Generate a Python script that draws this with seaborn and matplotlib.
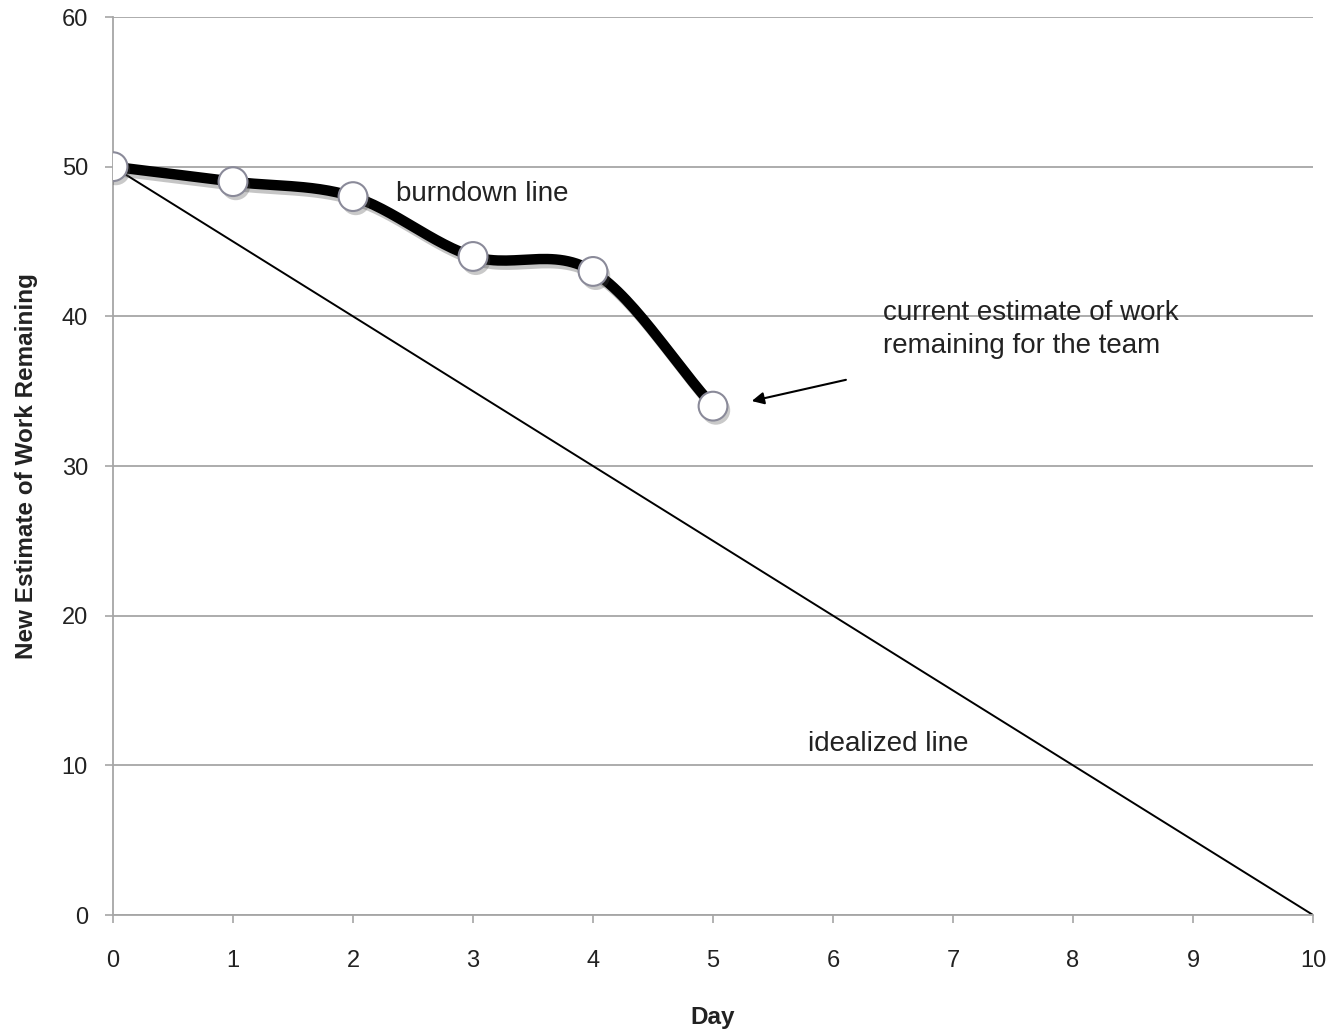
import numpy as np
import pandas as pd
import matplotlib
matplotlib.use('Agg')
import matplotlib.pyplot as plt
import matplotlib.patheffects as pe
import seaborn as sns

days = [0, 1, 2, 3, 4, 5]
work_remaining = [50, 49, 48, 44, 43, 34]
ideal_days = [0, 10]
ideal_work = [50, 0]
x_ticks = list(range(0, 11))
y_ticks = [0, 10, 20, 30, 40, 50, 60]


def smooth_curve(x, y, steps=30):
    # catmull-rom spline through the points, like a spreadsheet "smoothed line"
    x = np.asarray(x, dtype=float)
    y = np.asarray(y, dtype=float)
    px = np.concatenate([[2 * x[0] - x[1]], x, [2 * x[-1] - x[-2]]])
    py = np.concatenate([[2 * y[0] - y[1]], y, [2 * y[-1] - y[-2]]])
    xs, ys = [], []
    t = np.linspace(0, 1, steps)
    for i in range(1, len(px) - 2):
        for p, out in ((px, xs), (py, ys)):
            p0, p1, p2, p3 = p[i - 1], p[i], p[i + 1], p[i + 2]
            out.extend(0.5 * (2 * p1 + (-p0 + p2) * t + (2 * p0 - 5 * p1 + 4 * p2 - p3) * t ** 2
                              + (-p0 + 3 * p1 - 3 * p2 + p3) * t ** 3))
    return np.array(xs), np.array(ys)


sns.set_theme(style='white')
plt.rcParams['font.family'] = ['Liberation Sans', 'DejaVu Sans']

fig = plt.figure(figsize=(13.34, 10.31), dpi=100)
ax = fig.add_axes([0.0847, 0.1125, 0.8996, 0.871])

ax.yaxis.grid(True, color='#a6a6a6', linewidth=1.3)
ax.set_axisbelow(True)

sns.lineplot(x=ideal_days, y=ideal_work, ax=ax, color='black', linewidth=1.4)

sx, sy = smooth_curve(days, work_remaining)
sns.lineplot(x=sx, y=sy, ax=ax, color='black', linewidth=7.5, sort=False,
             path_effects=[pe.SimpleLineShadow(offset=(2, -3), alpha=0.25), pe.Normal()])

df = pd.DataFrame({'Day': days, 'Work': work_remaining})
sns.scatterplot(data=df, x='Day', y='Work', ax=ax, s=430, color='white',
                edgecolor='#8a8a99', linewidth=1.5, zorder=5,
                path_effects=[pe.SimplePatchShadow(offset=(2, -3), alpha=0.3), pe.Normal()])

ax.set_xlim(0, 10)
ax.set_ylim(0, 60)
ax.set_xticks(x_ticks)
ax.set_yticks(y_ticks)
ax.tick_params(axis='both', labelsize=17, colors='#222222', length=6, width=1.2,
               direction='out', bottom=True, left=True)
ax.tick_params(axis='both', which='major', color='#a6a6a6')
ax.tick_params(axis='x', pad=19)
ax.tick_params(axis='y', pad=12)
for side in ['top', 'right']:
    ax.spines[side].set_visible(False)
for side in ['left', 'bottom']:
    ax.spines[side].set_color('#a6a6a6')
    ax.spines[side].set_linewidth(1.3)

ax.set_xlabel('Day', fontsize=17.5, fontweight='bold', color='#222222', labelpad=25)
ax.set_ylabel('New Estimate of Work Remaining', fontsize=17.5, fontweight='bold', color='#222222', labelpad=17)

ax.text(2.36, 48.2, 'burndown line', fontsize=20, color='#222222', va='center')
ax.text(6.42, 39.1, 'current estimate of work\nremaining for the team', fontsize=20,
        color='#222222', va='center', linespacing=1.35)
ax.text(5.79, 11.4, 'idealized line', fontsize=20, color='#222222', va='center')
ax.annotate('', xy=(5.3, 34.3), xytext=(6.13, 35.8),
            arrowprops=dict(arrowstyle='-|>', color='black', lw=1.5, mutation_scale=18))

fig.savefig('out.png', dpi=100)
